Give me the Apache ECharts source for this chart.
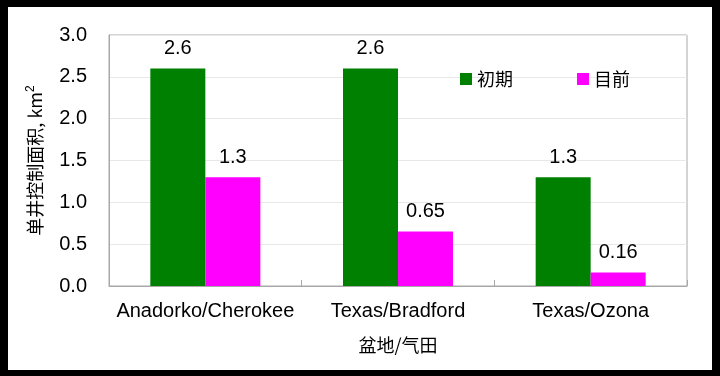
<!DOCTYPE html>
<html>
<head>
<meta charset="utf-8">
<script src="https://cdn.jsdelivr.net/npm/echarts@6/dist/echarts.min.js"></script>
<style>
html, body { margin: 0; padding: 0; background: #000; }
#main { width: 720px; height: 376px; }
</style>
</head>
<body>
<div id="main"></div>
<script>
// 盆地/气田
var categories = ['Anadorko/Cherokee', 'Texas/Bradford', 'Texas/Ozona'];
var seriesNames = ['初期', '目前'];
var initialValues = [2.6, 2.6, 1.3];   // 初期
var currentValues = [1.3, 0.65, 0.16]; // 目前
var yTicks = { min: 0, max: 3, step: 0.5 };

var chart = echarts.init(document.getElementById('main'));

var latin = '"Liberation Sans", Arial, sans-serif';
var cjk = '"Noto Sans CJK SC", sans-serif';

function barSeries(name, data, color) {
    return {
        name: name,
        type: 'bar',
        data: data,
        barWidth: 55,
        barGap: '0%',
        itemStyle: { color: color },
        label: {
            show: true,
            position: 'top',
            distance: 10,
            color: '#000',
            fontSize: 20,
            fontFamily: latin,
            formatter: function (p) { return String(p.value); }
        }
    };
}

var option = {
    backgroundColor: '#000',
    animation: false,
    graphic: [{
        type: 'rect',
        z: -10,
        silent: true,
        shape: { x: 8, y: 7, width: 704, height: 363 },
        style: { fill: '#fff' }
    }],
    grid: {
        left: 109, right: 33, top: 35, bottom: 90,
        show: true,
        borderColor: '#a8a8a8',
        borderWidth: 1
    },
    legend: {
        data: seriesNames,
        left: 455,
        top: 65,
        icon: 'rect',
        itemWidth: 12,
        itemHeight: 12,
        itemGap: 64,
        textStyle: { fontSize: 18, fontFamily: cjk, color: '#000' }
    },
    xAxis: {
        type: 'category',
        data: categories,
        name: '盆地/气田',
        nameLocation: 'middle',
        nameGap: 50,
        nameTextStyle: { fontSize: 18, fontFamily: cjk, color: '#000' },
        axisLine: { lineStyle: { color: '#a8a8a8' } },
        axisTick: { show: true, inside: true, length: 6, lineStyle: { color: '#a8a8a8' } },
        axisLabel: { interval: 0, hideOverlap: false, fontSize: 20, fontFamily: latin, color: '#000', margin: 15 }
    },
    yAxis: {
        type: 'value',
        min: yTicks.min,
        max: yTicks.max,
        interval: yTicks.step,
        name: '{a|单井控制面积, km}{sup|2}',
        nameLocation: 'middle',
        nameGap: 64,
        nameTextStyle: {
            rich: {
                a: { fontSize: 18, fontFamily: cjk, color: '#000' },
                sup: { fontSize: 12, fontFamily: latin, color: '#000', verticalAlign: 'top', padding: [0, 0, 8, 0] }
            }
        },
        axisLine: { show: true, lineStyle: { color: '#a8a8a8' } },
        axisTick: { show: false },
        splitLine: { lineStyle: { color: '#e8e8e8' } },
        axisLabel: {
            fontSize: 20,
            fontFamily: latin,
            color: '#000',
            margin: 22,
            formatter: function (v) { return v.toFixed(1); }
        }
    },
    series: [
        barSeries(seriesNames[0], initialValues, '#008000'),
        barSeries(seriesNames[1], currentValues, '#ff00ff')
    ]
};

chart.setOption(option);
</script>
</body>
</html>
